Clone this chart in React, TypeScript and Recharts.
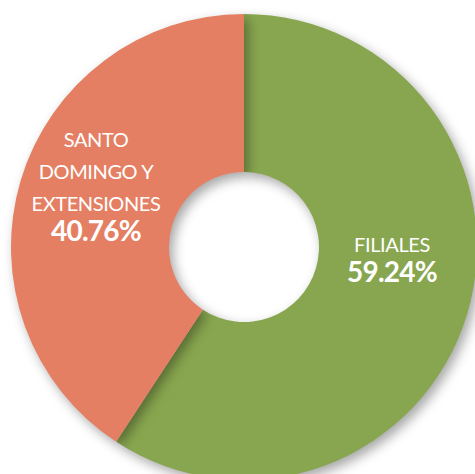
import { PieChart, Pie, Cell } from 'recharts';

// shares of the total, clockwise from 12 o'clock
const categories = ['FILIALES', 'SANTO DOMINGO Y EXTENSIONES'];
const shares = [59.24, 40.76];
const labelLines = [['FILIALES'], ['SANTO', 'DOMINGO Y', 'EXTENSIONES']];
const colors = ['#88a64f', '#e57f63'];

// where each label block sits, relative to the pie centre (first baseline)
const labelAnchors = [
  { dx: 148, dy: 5 },
  { dx: -148, dy: -100 },
];

const data = categories.map((name, i) => ({ name, value: shares[i] }));

const renderLabel = (props: any) => {
  const { cx, cy, index } = props;
  const a = labelAnchors[index];
  const lines = labelLines[index];
  const x = cx + a.dx;
  const y = cy + a.dy;
  return (
    <g key={`lbl-${index}`}>
      {lines.map((l, j) => (
        <text
          key={j}
          x={x}
          y={y + j * 32}
          textAnchor="middle"
          fill="#ffffff"
          fontSize={20}
          letterSpacing={-0.4}
          fontFamily="Lato, sans-serif"
        >
          {l}
        </text>
      ))}
      <text
        x={x}
        y={y + (lines.length - 1) * 32 + 30}
        textAnchor="middle"
        fill="#ffffff"
        fontSize={28}
        fontWeight={700}
        letterSpacing={-0.8}
        fontFamily="Lato, sans-serif"
      >
        {`${shares[index].toFixed(2)}%`}
      </text>
    </g>
  );
};

export default function App() {
  return (
    <div style={{ position: 'absolute', left: 0, top: 0, width: 475, height: 474, background: '#fff' }}>
      <PieChart width={475} height={474} margin={{ top: 0, right: 0, bottom: 0, left: 0 }}>
        <Pie
          data={data}
          dataKey="value"
          nameKey="name"
          cx={244}
          cy={247}
          innerRadius={75}
          outerRadius={233}
          startAngle={90}
          endAngle={-270}
          stroke="none"
          labelLine={false}
          label={renderLabel}
          isAnimationActive={false}
        >
          {data.map((d, i) => (
            <Cell
              key={d.name}
              fill={colors[i]}
              style={{ filter: 'drop-shadow(4px 5px 6px rgba(0,0,0,0.35))' }}
            />
          ))}
        </Pie>
      </PieChart>
    </div>
  );
}
